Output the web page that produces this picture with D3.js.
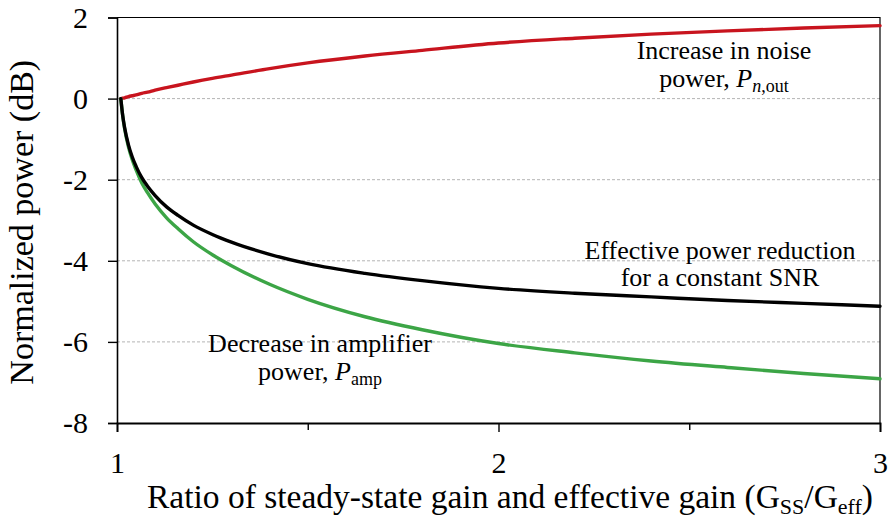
<!DOCTYPE html>
<html>
<head>
<meta charset="utf-8">
<script src="https://cdnjs.cloudflare.com/ajax/libs/d3/7.8.4/d3.min.js"></script>
<style>
  body { margin: 0; background: #fff; }
  text { font-family: Liberation Serif; }
</style>
</head>
<body>
<div id="chart"></div>
<script>
// ratio G_SS / G_eff
const ratio = [1.01, 1.015, 1.02, 1.03, 1.04, 1.05, 1.065, 1.08, 1.10, 1.13, 1.16, 1.20, 1.25, 1.30,
               1.40, 1.50, 1.65, 1.80, 2.00, 2.20, 2.40, 2.60, 2.80, 3.00];
// increase in noise power (red), dB
const noisePower = [0, 0.01, 0.02, 0.05, 0.07, 0.09, 0.13, 0.16, 0.21, 0.27, 0.33, 0.41, 0.50, 0.58,
                    0.74, 0.88, 1.05, 1.19, 1.37, 1.49, 1.59, 1.67, 1.74, 1.80];
// effective power reduction for constant SNR (black), dB
const effPower = [0, -0.42, -0.72, -1.14, -1.44, -1.67, -1.95, -2.16, -2.39, -2.67, -2.88, -3.12, -3.35, -3.54,
                  -3.84, -4.07, -4.31, -4.49, -4.68, -4.80, -4.89, -4.98, -5.05, -5.12];
// decrease in amplifier power (green), dB
const ampPower = [0, -0.43, -0.74, -1.19, -1.51, -1.76, -2.08, -2.32, -2.60, -2.94, -3.21, -3.53, -3.85, -4.12,
                  -4.58, -4.95, -5.38, -5.70, -6.04, -6.27, -6.47, -6.63, -6.78, -6.91];

const xTicks = [1, 2, 3];
const xMinorTicks = [1.5, 2.5];
const yTicks = [-8, -6, -4, -2, 0, 2];
const gridTicks = [-6, -4, -2, 0];

const W = 893, H = 525;
const pLeft = 117, pRight = 880, pTop = 17.5, pBottom = 423;
const serif = "Liberation Serif";

const svg = d3.select("#chart").append("svg")
  .attr("width", W).attr("height", H);

const x = d3.scaleLinear().domain([1, 3]).range([pLeft, pRight]);
const y = d3.scaleLinear().domain([-8, 2]).range([pBottom, pTop]);

// dashed gridlines
svg.append("g").selectAll("line")
  .data(gridTicks)
  .join("line")
  .attr("x1", pLeft).attr("x2", pRight)
  .attr("y1", d => y(d)).attr("y2", d => y(d))
  .attr("stroke", "#b4b4b4")
  .attr("stroke-width", 1)
  .attr("stroke-dasharray", "3,2");

// frame (top + right)
svg.append("path")
  .attr("d", `M${pLeft},${pTop}H${pRight}V${pBottom}`)
  .attr("fill", "none")
  .attr("stroke", "#000")
  .attr("stroke-width", 1.2);

// curves
const line = d3.line()
  .x((d, i) => x(ratio[i]))
  .y(d => y(d))
  .curve(d3.curveMonotoneX);

const series = [
  { values: noisePower, color: "#c8141e" },
  { values: ampPower, color: "#3ca546" },
  { values: effPower, color: "#000000" }
];

svg.append("g").selectAll("path")
  .data(series)
  .join("path")
  .attr("d", d => line(d.values))
  .attr("fill", "none")
  .attr("stroke", d => d.color)
  .attr("stroke-width", 3.4)
  .attr("stroke-linecap", "round");

// y axis
const yAxis = svg.append("g")
  .attr("transform", `translate(${pLeft},0)`)
  .call(d3.axisLeft(y).tickValues(yTicks).tickSize(9).tickPadding(20).tickFormat(d => String(d)));
yAxis.attr("font-family", serif).attr("font-size", 30);
yAxis.selectAll("text").style("font-family", serif);
yAxis.select(".domain").attr("stroke-width", 1.6);
yAxis.selectAll(".tick line").attr("stroke-width", 1.4);

// x axis
const xAxis = svg.append("g")
  .attr("transform", `translate(0,${pBottom})`)
  .call(d3.axisBottom(x).tickValues(xTicks).tickSize(9).tickPadding(20).tickFormat(d => String(d)));
xAxis.attr("font-family", serif).attr("font-size", 30);
xAxis.selectAll("text").style("font-family", serif);
xAxis.select(".domain").attr("stroke-width", 1.8);
xAxis.selectAll(".tick line").attr("stroke-width", 1.4);

const xMinor = svg.append("g")
  .attr("transform", `translate(0,${pBottom})`)
  .call(d3.axisBottom(x).tickValues(xMinorTicks).tickSize(7).tickFormat(""));
xMinor.select(".domain").remove();
xMinor.selectAll(".tick line").attr("stroke-width", 1.4);

// axis titles
svg.append("text")
  .attr("transform", `translate(33,${(pTop + pBottom) / 2 + 2}) rotate(-90)`)
  .attr("text-anchor", "middle")
  .style("font-family", serif)
  .attr("font-size", 34)
  .text("Normalized power (dB)");

const xt = svg.append("text")
  .attr("x", 510).attr("y", 508)
  .attr("text-anchor", "middle")
  .style("font-family", serif)
  .attr("font-size", 33.5);
xt.append("tspan").text("Ratio of steady-state gain and effective gain (G");
xt.append("tspan").attr("dy", 6).attr("font-size", 22).text("SS");
xt.append("tspan").attr("dy", -6).text("/G");
xt.append("tspan").attr("dy", 6).attr("font-size", 22).text("eff");
xt.append("tspan").attr("dy", -6).text(")");

// annotations
function note(cx, by, txt) {
  return svg.append("text").attr("x", cx).attr("y", by)
    .attr("text-anchor", "middle")
    .style("font-family", serif)
    .attr("font-size", 26)
    .text(txt);
}

note(724, 59, "Increase in noise");
const n2 = note(724, 87, "power, ");
n2.append("tspan").attr("font-style", "italic").text("P");
n2.append("tspan").attr("dy", 5).attr("font-size", 18).attr("font-style", "italic").text("n");
n2.append("tspan").attr("font-size", 18).text(",out");

note(320, 352, "Decrease in amplifier");
const a2 = note(320, 380, "power, ");
a2.append("tspan").attr("font-style", "italic").text("P");
a2.append("tspan").attr("dy", 5).attr("font-size", 18).text("amp");

note(720, 259, "Effective power reduction");
note(720, 286, "for a constant SNR");
</script>
</body>
</html>
